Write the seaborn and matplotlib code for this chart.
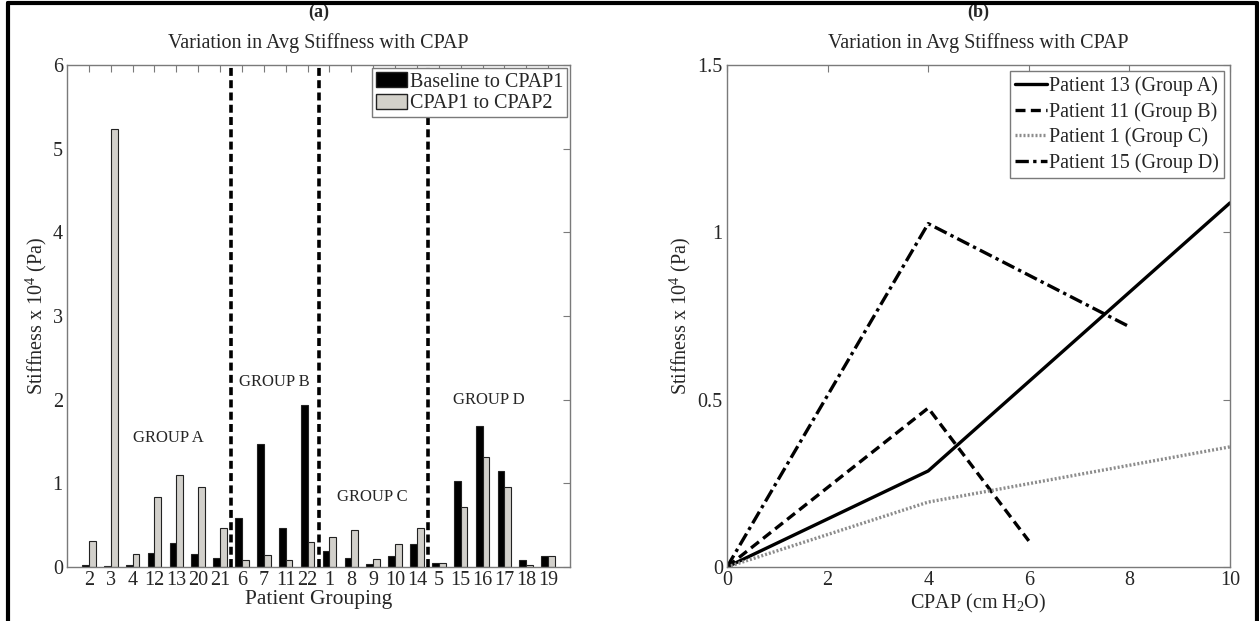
import numpy as np
import pandas as pd
import matplotlib
matplotlib.use("Agg")
import matplotlib.pyplot as plt
from matplotlib.patches import Patch
from matplotlib.lines import Line2D
import seaborn as sns

# ---- panel (a) data ----
patients = ["2", "3", "4", "12", "13", "20", "21",
            "6", "7", "11", "22",
            "1", "8", "9", "10", "14",
            "5", "15", "16", "17", "18", "19"]
baseline_to_cpap1 = [0.02, 0.01, 0.02, 0.17, 0.29, 0.16, 0.11,
                     0.58, 1.47, 0.47, 1.94,
                     0.19, 0.11, 0.04, 0.13, 0.27,
                     0.05, 1.03, 1.68, 1.15, 0.08, 0.13]
cpap1_to_cpap2 = [0.31, 5.23, 0.15, 0.84, 1.10, 0.96, 0.47,
                  0.08, 0.14, 0.08, 0.30,
                  0.36, 0.44, 0.09, 0.28, 0.47,
                  0.05, 0.72, 1.31, 0.96, 0.02, 0.13]
series_names = ["Baseline to CPAP1", "CPAP1 to CPAP2"]

# ---- panel (b) data ----
cpap_13 = [0, 4, 10]
stiff_13 = [0.0, 0.287, 1.088]
cpap_11 = [0, 4, 6]
stiff_11 = [0.0, 0.475, 0.078]
cpap_1 = [0, 4, 10]
stiff_1 = [0.0, 0.194, 0.359]
cpap_15 = [0, 4, 8]
stiff_15 = [0.0, 1.026, 0.718]
line_names = ["Patient 13 (Group A)", "Patient 11 (Group B)",
              "Patient 1 (Group C)", "Patient 15 (Group D)"]

sns.set_theme(style="white")
plt.rcParams["font.family"] = ["Liberation Serif", "DejaVu Serif"]
plt.rcParams["mathtext.fontset"] = "custom"
plt.rcParams["mathtext.rm"] = "Liberation Serif"
plt.rcParams["mathtext.it"] = "Liberation Serif:italic"
plt.rcParams["mathtext.bf"] = "Liberation Serif:bold"
plt.rcParams["mathtext.default"] = "regular"

FS = 14.5
GRAY_BAR = "#d3d1ca"
SPINE = "#7a7a7a"

fig = plt.figure(figsize=(12.59, 6.21), dpi=100)
ax1 = fig.add_axes([67 / 1259, 1 - 567 / 621, 503 / 1259, 502 / 621])
ax2 = fig.add_axes([727 / 1259, 1 - 567 / 621, 503 / 1259, 502 / 621])

# panel (a): grouped bars
df_bars = pd.DataFrame({
    "Patient": patients * 2,
    "Stiffness": baseline_to_cpap1 + cpap1_to_cpap2,
    "Interval": [series_names[0]] * len(patients) + [series_names[1]] * len(patients),
})
sns.barplot(data=df_bars, x="Patient", y="Stiffness", hue="Interval",
            order=patients, hue_order=series_names,
            palette=["black", GRAY_BAR], edgecolor="#222222", linewidth=0.8,
            width=0.62, errorbar=None, ax=ax1)
for xv in [6.5, 10.5, 15.5]:
    ax1.axvline(xv, color="black", linestyle=(0, (2.2, 1.2)), linewidth=2.6, zorder=3)
for txt, xv, yv in [("GROUP A", 3.65, 1.54), ("GROUP B", 8.5, 2.21),
                    ("GROUP C", 12.95, 0.84), ("GROUP D", 18.3, 2.0)]:
    ax1.text(xv, yv, txt, ha="center", va="center", fontsize=12)
ax1.set_xlim(-1, 22)
ax1.set_ylim(0, 6)
ax1.set_yticks(range(0, 7))
ax1.set_xlabel("Patient Grouping", fontsize=FS + 1, labelpad=0)
ax1.set_ylabel("Stiffness x 10$^4$ (Pa)", fontsize=FS, labelpad=3)
ax1.set_title("Variation in Avg Stiffness with CPAP", fontsize=FS, pad=12)
ax1.text(0.5, 1.104, "(a)", transform=ax1.transAxes, ha="center", va="center",
         fontsize=FS - 1.5, fontweight="bold")
bar_handles = [Patch(facecolor="black", edgecolor="#222222"),
               Patch(facecolor=GRAY_BAR, edgecolor="#222222")]
leg1 = ax1.legend(bar_handles, series_names, loc="upper right", fontsize=FS,
                  frameon=True, fancybox=False, edgecolor=SPINE, framealpha=1,
                  handlelength=1.5, handleheight=0.8, handletextpad=0.15,
                  borderpad=0.2, labelspacing=0.1, borderaxespad=0.15)
leg1.get_frame().set_linewidth(1.0)

# panel (b): lines
df_lines = pd.DataFrame({
    "CPAP": cpap_13 + cpap_11 + cpap_1 + cpap_15,
    "Stiffness": stiff_13 + stiff_11 + stiff_1 + stiff_15,
    "Patient": ([line_names[0]] * len(cpap_13) + [line_names[1]] * len(cpap_11)
                + [line_names[2]] * len(cpap_1) + [line_names[3]] * len(cpap_15)),
})
palette = {line_names[0]: "black", line_names[1]: "black",
           line_names[2]: "#8c8c8c", line_names[3]: "black"}
dashes = {line_names[0]: "", line_names[1]: (3, 1.6),
          line_names[2]: (0.6, 0.6), line_names[3]: (4, 1.3, 1, 1.3)}
sns.lineplot(data=df_lines, x="CPAP", y="Stiffness", hue="Patient", style="Patient",
             hue_order=line_names, style_order=line_names,
             palette=palette, dashes=dashes, linewidth=2.4, sort=False,
             estimator=None, ax=ax2)
handles, labels = ax2.get_legend_handles_labels()
leg2 = ax2.legend(handles, labels, loc="upper right", fontsize=FS,
                  frameon=True, fancybox=False, edgecolor=SPINE, framealpha=1,
                  handlelength=1.6, handletextpad=0.1, borderpad=0.25,
                  labelspacing=0.3, borderaxespad=0.3)
leg2.get_frame().set_linewidth(1.0)
ax2.set_xlim(0, 10)
ax2.set_ylim(0, 1.5)
ax2.set_xticks([0, 2, 4, 6, 8, 10])
ax2.set_yticks([0, 0.5, 1, 1.5])
ax2.set_yticklabels(["0", "0.5", "1", "1.5"])
ax2.set_xlabel("CPAP (cm H$_2$O)", fontsize=FS, labelpad=1)
ax2.set_ylabel("Stiffness x 10$^4$ (Pa)", fontsize=FS, labelpad=3)
ax2.set_title("Variation in Avg Stiffness with CPAP", fontsize=FS, pad=12)
ax2.text(0.5, 1.104, "(b)", transform=ax2.transAxes, ha="center", va="center",
         fontsize=FS - 1.5, fontweight="bold")

for ax in (ax1, ax2):
    for sp in ax.spines.values():
        sp.set_color(SPINE)
        sp.set_linewidth(1.0)
        sp.set_visible(True)
    ax.tick_params(direction="in", top=True, right=True, length=5, width=0.8,
                   color=SPINE, labelsize=FS, pad=3)
    ax.grid(False)

# outer frame of the figure
fig.add_artist(Line2D([8 / 1259, 1257 / 1259], [1 - 3 / 621, 1 - 3 / 621],
                      transform=fig.transFigure, color="black", linewidth=3))
fig.add_artist(Line2D([8 / 1259, 8 / 1259], [0, 1 - 3 / 621],
                      transform=fig.transFigure, color="black", linewidth=3))
fig.add_artist(Line2D([1257 / 1259, 1257 / 1259], [0, 1 - 3 / 621],
                      transform=fig.transFigure, color="black", linewidth=3))

fig.savefig("out.png", dpi=100)
